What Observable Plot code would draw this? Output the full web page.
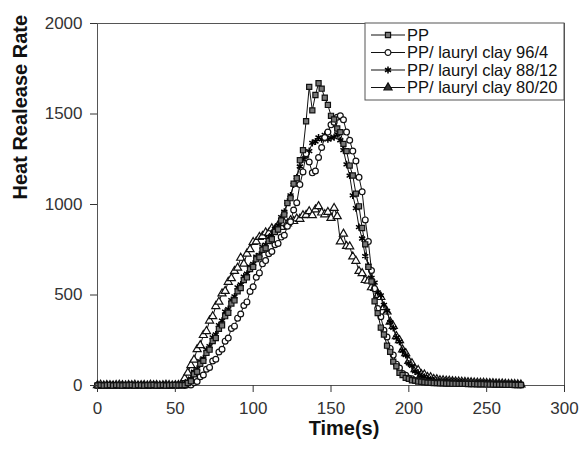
<!DOCTYPE html>
<html>
<head>
<meta charset="utf-8">
<script src="https://cdn.jsdelivr.net/npm/d3@7"></script>
<script src="https://cdn.jsdelivr.net/npm/@observablehq/plot@0.6"></script>
<style>
  html, body { margin: 0; padding: 0; background: #fff; }
  svg { display: block; }
</style>
</head>
<body>
<div id="chart"></div>
<script>
// ---- data ----
const time = [0,2,4,6,8,10,12,14,16,18,20,22,24,26,28,30,32,34,36,38,40,42,44,46,48,50,52,54,
  56,58,60,62,64,66,68,70,72,74,76,78,80,82,84,86,88,90,92,94,96,98,100,102,104,106,108,110,
  112,114,116,118,120,122,124,126,128,130,132,134,136,138,140,142,144,146,148,150,152,154,156,158,160,
  162,164,166,168,170,172,174,176,178,180,182,184,186,188,190,192,194,196,198,200,202,204,206,208,
  210,212,214,216,218,220,
  222,224,226,228,230,232,234,236,238,240,242,244,246,248,250,252,254,256,258,260,262,264,266,268,270,272];

const ppValues = [0,2,0,1,3,0,2,1,0,2,1,3,0,2,1,0,2,1,3,0,1,2,0,1,2,3,1,2,
  2,14,24,62,76,120,136,180,198,246,262,313,332,383,402,453,470,520,538,583,597,643,655,698,708,750,758,798,
  808,848,862,912,945,1008,1035,1115,1145,1245,1300,1460,1650,1520,1605,1670,1640,1590,1550,1490,1470,1420,1400,1335,1295,
  1215,1160,1060,990,870,780,655,575,465,400,320,282,220,186,132,106,70,58,42,37,29,27,22,21,
  18,16,15,14,13,12,
  12,11,11,10,10,9,9,9,8,8,8,7,7,7,6,6,6,5,5,5,4,4,4,3,3,3];

const clay96Values = [1,0,2,0,1,2,0,3,1,0,2,1,0,2,3,1,0,2,1,0,2,1,3,0,1,0,2,1,
  0,4,3,15,22,48,58,90,100,135,145,185,200,245,262,315,328,372,395,442,462,520,545,598,622,672,690,728,
  740,778,785,820,830,880,905,970,1010,1110,1180,1280,1235,1175,1185,1260,1315,1370,1400,1440,1455,1482,1490,1468,1400,
  1355,1295,1240,1150,1070,915,795,635,535,425,380,305,268,205,168,118,96,66,57,40,37,28,27,22,
  22,18,18,16,16,15,
  15,14,14,13,13,12,12,11,11,10,10,9,9,9,8,8,7,7,7,6,6,5,5,4,4,3];

const clay88Values = [2,0,1,3,0,2,1,0,3,1,2,0,1,3,0,2,1,0,2,3,0,1,2,1,0,2,3,4,
  5,24,38,76,92,135,150,198,218,266,282,333,358,408,422,472,492,542,558,602,618,656,672,712,722,766,778,816,
  830,866,885,930,960,1015,1050,1110,1150,1210,1250,1270,1295,1340,1348,1370,1360,1385,1360,1368,1372,1388,1355,1300,1222,
  1160,1050,980,875,812,715,662,595,568,515,498,445,412,350,318,265,242,192,168,122,108,78,70,52,
  48,37,35,27,27,23,
  23,22,21,20,19,18,17,16,15,15,14,13,13,12,11,11,10,10,9,8,8,7,7,6,5,5];

const clay80Values = [1,3,0,2,1,0,2,3,1,0,2,1,3,0,1,2,0,3,1,2,0,1,3,2,0,1,2,8,
  40,70,112,142,200,222,278,300,358,382,438,462,508,522,572,592,632,650,705,672,728,752,792,795,820,825,845,842,
  868,862,885,875,898,895,912,908,922,920,940,942,962,940,972,990,955,945,958,925,980,935,795,838,770,
  768,712,688,632,620,582,578,542,538,498,488,432,408,352,328,272,250,198,178,135,122,90,85,62,
  60,46,45,35,34,28,
  28,26,25,23,22,21,20,19,18,17,16,15,14,14,13,12,12,11,10,10,9,8,8,7,6,5];

const seriesNames = ["PP", "PP/ lauryl clay 96/4", "PP/ lauryl clay 88/12", "PP/ lauryl clay 80/20"];
const xTicks = [0, 50, 100, 150, 200, 250, 300];
const yTicks = [0, 500, 1000, 1500, 2000];
const xLabel = "Time(s)";
const yLabel = "Heat Realease Rate";

// ---- styles (not data) ----
const FONT = "'Liberation Sans', Arial, Helvetica, sans-serif";
const styles = [
  { symbol: "square",   fill: "#777",    stroke: "#111", strokeWidth: 1.2, r: 2.9, d3sym: d3.symbolSquare },
  { symbol: "circle",   fill: "#ffffff", stroke: "#111", strokeWidth: 1.2, r: 2.9, d3sym: d3.symbolCircle },
  { symbol: "asterisk", fill: "none",    stroke: "#000", strokeWidth: 1.5, r: 3.3, d3sym: d3.symbolAsterisk },
  { symbol: "triangle", fill: "#ffffff", stroke: "#111", strokeWidth: 1.2, r: 3.0, d3sym: d3.symbolTriangle }
];

const allValues = [ppValues, clay96Values, clay88Values, clay80Values];
const series = allValues.map((vals, k) => {
  const n = Math.min(vals.length, time.length);
  const rows = [];
  for (let i = 0; i < n; i++) rows.push({ t: time[i], v: vals[i], s: seriesNames[k] });
  return rows;
});

const marks = [Plot.frame({ stroke: "#555", strokeWidth: 1 })];
for (let k = series.length - 1; k >= 0; k--) {
  const st = styles[k];
  marks.push(Plot.line(series[k], { x: "t", y: "v", stroke: "#111", strokeWidth: 1 }));
  marks.push(Plot.dot(series[k], {
    x: "t", y: "v", symbol: st.symbol, r: st.r,
    fill: st.fill, stroke: st.stroke, strokeWidth: st.strokeWidth
  }));
}
marks.push(Plot.axisX({ ticks: xTicks, tickSize: 7, tickPadding: 9, label: null, fontSize: 17, tickFormat: d => String(d) }));
marks.push(Plot.axisY({ ticks: yTicks, tickSize: 7, tickPadding: 8, label: null, fontSize: 17, tickFormat: d => String(d) }));
marks.push(Plot.text([xLabel], { frameAnchor: "bottom", dx: 13, dy: 49, fontSize: 20, fontWeight: "bold", fill: "#111", text: d => d }));
marks.push(Plot.text([yLabel], { frameAnchor: "left", dx: -77, dy: -5, rotate: -90, fontSize: 20, fontWeight: "bold", fill: "#111", text: d => d }));

const svg = Plot.plot({
  width: 583,
  height: 449,
  marginLeft: 97,
  marginRight: 19,
  marginTop: 23,
  marginBottom: 64,
  style: { fontFamily: FONT, fontSize: "17px", color: "#333", background: "#fff", overflow: "visible" },
  x: { domain: [0, 300] },
  y: { domain: [0, 2000] },
  marks
});

// ---- legend inside the plot area (top-right) ----
const lg = d3.select(svg).append("g")
  .attr("font-family", FONT).attr("font-size", 16.5).attr("fill", "#111").attr("text-anchor", "start");
const box = { x: 365, y: 23, w: 199, h: 77 };
lg.append("rect").attr("x", box.x).attr("y", box.y).attr("width", box.w).attr("height", box.h)
  .attr("fill", "#fff").attr("stroke", "#555").attr("stroke-width", 1);
seriesNames.forEach((name, k) => {
  const cy = box.y + 12 + k * 17.5;
  const st = styles[k];
  lg.append("line").attr("x1", 371).attr("x2", 405).attr("y1", cy).attr("y2", cy)
    .attr("stroke", "#111").attr("stroke-width", 1.2);
  const size = Math.PI * st.r * st.r * 1.0;
  lg.append("path").attr("d", d3.symbol().type(st.d3sym).size(size)())
    .attr("transform", `translate(388,${cy})`)
    .attr("fill", k === 3 ? "#333" : st.fill).attr("stroke", st.stroke).attr("stroke-width", st.strokeWidth);
  lg.append("text").attr("x", 407).attr("y", cy).attr("dy", "0.36em").attr("text-anchor", "start").text(name);
});

document.getElementById("chart").appendChild(svg);
</script>
</body>
</html>
